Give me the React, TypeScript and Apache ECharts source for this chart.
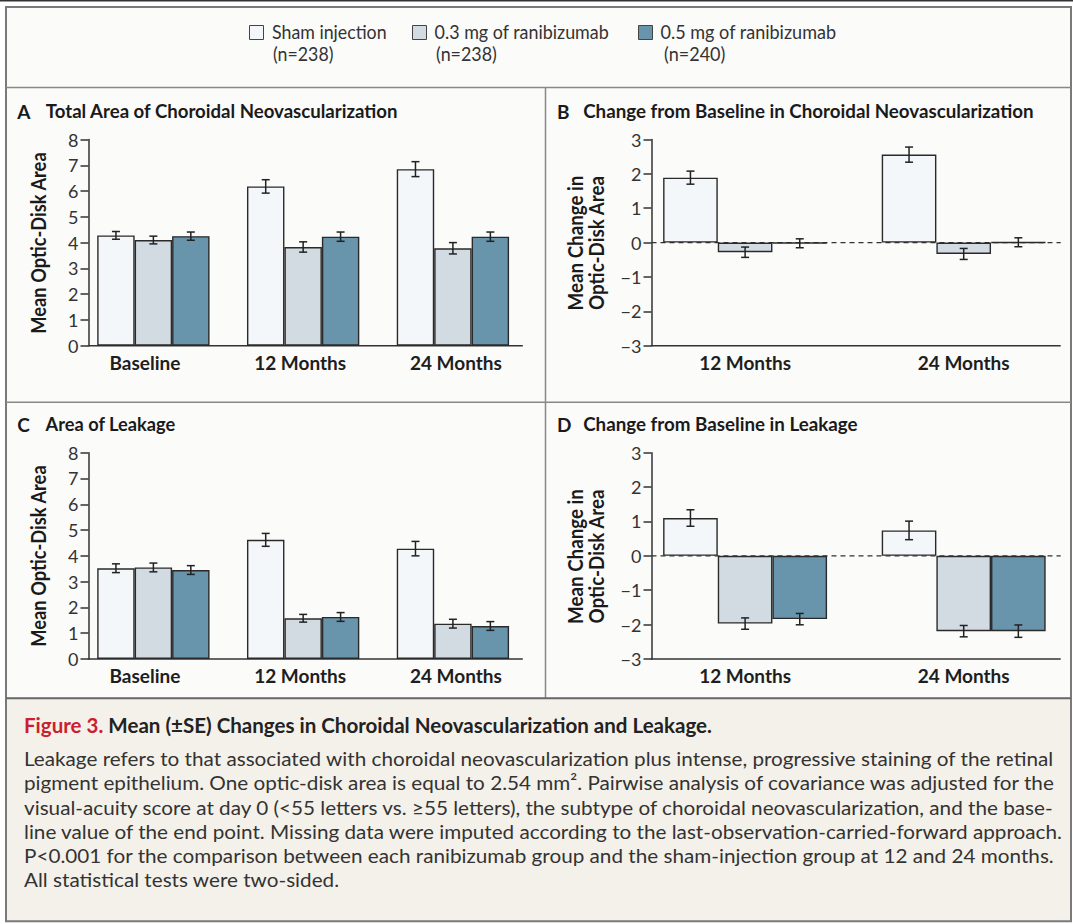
import React, { useEffect, useRef } from 'react';
import * as echarts from 'echarts';

const W = 1073;
const H = 924;
const FAMILY = 'Lato';

// ---------- data ----------
const timepointsAC = ['Baseline', '12 Months', '24 Months'];
const timepointsBD = ['12 Months', '24 Months'];
const groupNames = ['Sham injection', '0.3 mg of ranibizumab', '0.5 mg of ranibizumab'];
const groupSizes = ['(n=238)', '(n=238)', '(n=240)'];

// A: total area of CNV (mean optic-disk area)
const cnvAreaSham = [4.28, 6.18, 6.85];
const cnvArea03 = [4.1, 3.83, 3.78];
const cnvArea05 = [4.25, 4.23, 4.23];
const cnvAreaShamSE = [0.15, 0.26, 0.29];
const cnvArea03SE = [0.15, 0.2, 0.22];
const cnvArea05SE = [0.16, 0.18, 0.18];

// B: change from baseline in CNV
const cnvChangeSham = [1.89, 2.56];
const cnvChange03 = [-0.28, -0.33];
const cnvChange05 = [-0.02, 0.01];
const cnvChangeShamSE = [0.19, 0.22];
const cnvChange03SE = [0.15, 0.16];
const cnvChange05SE = [0.13, 0.13];

// C: area of leakage
const leakAreaSham = [3.52, 4.62, 4.28];
const leakArea03 = [3.55, 1.58, 1.37];
const leakArea05 = [3.45, 1.63, 1.28];
const leakAreaShamSE = [0.17, 0.25, 0.28];
const leakArea03SE = [0.17, 0.15, 0.17];
const leakArea05SE = [0.17, 0.17, 0.17];

// D: change from baseline in leakage
const leakChangeSham = [1.1, 0.74];
const leakChange03 = [-1.97, -2.19];
const leakChange05 = [-1.84, -2.19];
const leakChangeShamSE = [0.24, 0.27];
const leakChange03SE = [0.165, 0.165];
const leakChange05SE = [0.165, 0.18];

const panelLetters = ['A', 'B', 'C', 'D'];
const panelTitles = [
  'Total Area of Choroidal Neovascularization',
  'Change from Baseline in Choroidal Neovascularization',
  'Area of Leakage',
  'Change from Baseline in Leakage',
];

const captionTitleRed = 'Figure 3.';
const captionTitle = 'Mean (±SE) Changes in Choroidal Neovascularization and Leakage.';
const captionLines = [
  'Leakage refers to that associated with choroidal neovascularization plus intense, progressive staining of the retinal',
  'pigment epithelium. One optic-disk area is equal to 2.54 mm². Pairwise analysis of covariance was adjusted for the',
  'visual-acuity score at day 0 (<55 letters vs. ≥55 letters), the subtype of choroidal neovascularization, and the base-',
  'line value of the end point. Missing data were imputed according to the last-observation-carried-forward approach.',
  'P<0.001 for the comparison between each ranibizumab group and the sham-injection group at 12 and 24 months.',
  'All statistical tests were two-sided.',
];

// ---------- styles ----------
const groupColors = ['#f4f7fa', '#d3dbe2', '#6895ac'];
const INK = '#2a2a2a';

let measureCtx: CanvasRenderingContext2D | null = null;
function textWidth(text: string, size: number, weight: string) {
  if (!measureCtx) measureCtx = document.createElement('canvas').getContext('2d');
  measureCtx!.font = `${weight} ${size}px ${FAMILY}`;
  return measureCtx!.measureText(text).width;
}

function txt(text: string, x: number, y: number, size: number, weight: string, fill: string, scaleX = 1, align = 'left', rotation = 0) {
  return {
    type: 'text',
    x,
    y,
    rotation,
    scaleX,
    silent: true,
    style: {
      text,
      fill,
      font: `${weight} ${size}px ${FAMILY}`,
      align,
      textAlign: align,
      verticalAlign: 'middle',
      textVerticalAlign: 'middle',
    },
  };
}

function fitText(text: string, x: number, y: number, width: number, size: number, weight: string, fill: string, align = 'left', rotation = 0) {
  const s = width / textWidth(text, size, weight);
  return txt(text, x, y, size, weight, fill, s, align, rotation);
}

function line(x1: number, y1: number, x2: number, y2: number, stroke: string, lineWidth: number, dash?: number[], z = 0) {
  return {
    type: 'line',
    silent: true,
    z,
    shape: { x1, y1, x2, y2 },
    style: { stroke, lineWidth, lineDash: dash || null },
  };
}

const fmtMinus = (v: number) => (v < 0 ? '\u2212' + Math.abs(v) : String(v));

const labelRichBase = { color: '#1e1e1e', fontFamily: FAMILY, fontWeight: 'bold', fontSize: 19 };

function buildOption() {
  const panels = [
    { cats: timepointsAC, vals: [cnvAreaSham, cnvArea03, cnvArea05], ses: [cnvAreaShamSE, cnvArea03SE, cnvArea05SE], min: 0, max: 8, left: 78.5, top: 139.5, width: 449.3, height: 206.2, axisX: 88.5, axisEnd: 522.8, zero: false, labelPad: [[0, 17, 0, 0], [0, 6, 0, 0], [0, 0, 0, 6]] },
    { cats: timepointsBD, vals: [cnvChangeSham, cnvChange03, cnvChange05], ses: [cnvChangeShamSE, cnvChange03SE, cnvChange05SE], min: -3, max: 3, left: 635.8, top: 139.5, width: 439.2, height: 206.2, axisX: 651.5, axisEnd: 1060.7, zero: true, labelPad: [[0, 0, 0, 0], [0, 0, 0, 0]] },
    { cats: timepointsAC, vals: [leakAreaSham, leakArea03, leakArea05], ses: [leakAreaShamSE, leakArea03SE, leakArea05SE], min: 0, max: 8, left: 78.5, top: 452.7, width: 449.3, height: 206.3, axisX: 88.5, axisEnd: 522.8, zero: false, labelPad: [[0, 17, 0, 0], [0, 6, 0, 0], [0, 0, 0, 6]] },
    { cats: timepointsBD, vals: [leakChangeSham, leakChange03, leakChange05], ses: [leakChangeShamSE, leakChange03SE, leakChange05SE], min: -3, max: 3, left: 635.8, top: 452.7, width: 439.2, height: 206.3, axisX: 651.5, axisEnd: 1060.7, zero: true, labelPad: [[0, 0, 0, 0], [0, 0, 0, 0]] },
  ];

  const grid: any[] = [];
  const xAxis: any[] = [];
  const yAxis: any[] = [];
  const series: any[] = [];
  const graphics: any[] = [];

  // backgrounds & frame
  graphics.push({ type: 'rect', silent: true, z: -10, shape: { x: 6, y: 7, width: 1065, height: 691 }, style: { fill: '#fbfbfa' } });
  graphics.push({ type: 'rect', silent: true, z: -10, shape: { x: 6, y: 698, width: 1065, height: 223 }, style: { fill: '#f4f1ea' } });
  graphics.push(line(0, 0.75, W, 0.75, '#333', 1.5));
  graphics.push({ type: 'rect', silent: true, z: 10, shape: { x: 6, y: 7, width: 1065, height: 914.3 }, style: { fill: 'none', stroke: '#7a7a7a', lineWidth: 2 } });
  graphics.push(line(6, 87.5, 1071, 87.5, '#888', 1.5, undefined, 10));
  graphics.push(line(6, 402.3, 1071, 402.3, '#888', 1.5, undefined, 10));
  graphics.push(line(545.5, 87.5, 545.5, 698, '#888', 1.5, undefined, 10));
  graphics.push(line(6, 698.3, 1071, 698.3, '#666', 2, undefined, 10));

  // legend
  const swX = [249, 412, 638];
  const legTextX = [272, 434.6, 660.5];
  const legTextW = [114.7, 174.6, 175.9];
  const legSubX = [273, 436, 664];
  groupNames.forEach((name, i) => {
    graphics.push({ type: 'rect', silent: true, shape: { x: swX[i] + 0.5, y: 25.5, width: 14, height: 14 }, style: { fill: groupColors[i], stroke: '#444', lineWidth: 1 } });
    const s = legTextW[i] / textWidth(name, 18.5, 'normal');
    graphics.push(txt(name, legTextX[i], 32, 18.5, 'normal', '#333', s));
    graphics.push(txt(groupSizes[i], legSubX[i], 54, 18.5, 'normal', '#333', s));
  });

  // panel titles
  const titleY = [111, 111, 424.3, 424.3];
  const letterX = [17.2, 557, 17.2, 557];
  const titleX = [45.8, 583.2, 45.6, 583.2];
  const titleW = [353, 450.7, 130, 274.6];
  panels.forEach((p, i) => {
    graphics.push(txt(panelLetters[i], letterX[i], titleY[i], 19, 'bold', '#1a1a1a'));
    graphics.push(fitText(panelTitles[i], titleX[i], titleY[i], titleW[i], 18.5, 'bold', '#1a1a1a'));
  });

  // y axis titles
  const yTitleCenters = [243, 243, 556, 556.5];
  [0, 2].forEach((i) => {
    graphics.push(fitText('Mean Optic-Disk Area', 38.6, yTitleCenters[i], 182, 20, 'bold', '#1a1a1a', 'center', Math.PI / 2));
  });
  [1, 3].forEach((i) => {
    const s = 135 / textWidth('Mean Change in', 20, 'bold');
    graphics.push(txt('Mean Change in', 575.7, yTitleCenters[i], 20, 'bold', '#1a1a1a', s, 'center', Math.PI / 2));
    graphics.push(txt('Optic-Disk Area', 596.5, yTitleCenters[i], 20, 'bold', '#1a1a1a', s, 'center', Math.PI / 2));
  });

  // caption
  {
    const full = captionTitleRed + ' ' + captionTitle;
    const s = 688 / textWidth(full, 20, 'bold');
    graphics.push(txt(captionTitleRed, 24, 725, 20, 'bold', '#cc1f2d', s));
    const off = textWidth(captionTitleRed + ' ', 20, 'bold') * s;
    graphics.push(txt(captionTitle, 24 + off, 725, 20, 'bold', '#222', s));
    const bs = 1030 / textWidth(captionLines[0], 20, 'normal');
    const ys = [758.3, 782.5, 806.7, 831, 855.2, 879.4];
    captionLines.forEach((l, i) => graphics.push(txt(l, 24, ys[i], 20, 'normal', '#333', bs)));
  }

  panels.forEach((p, gi) => {
    grid.push({ left: p.left, top: p.top, width: p.width, height: p.height, containLabel: false });
    const rich: any = {};
    p.cats.forEach((c, i) => {
      rich['c' + i] = { ...labelRichBase, padding: p.labelPad[i] };
    });
    xAxis.push({
      type: 'category',
      gridIndex: gi,
      data: p.cats,
      boundaryGap: true,
      axisLine: { show: false, onZero: false },
      axisTick: { show: false },
      splitLine: { show: false },
      axisLabel: {
        ...labelRichBase,
        margin: 7,
        interval: 0,
        formatter: (v: string, i: number) => `{c${i}|${v}}`,
        rich,
      },
    });
    yAxis.push({
      type: 'value',
      gridIndex: gi,
      min: p.min,
      max: p.max,
      interval: 1,
      offset: -(p.axisX - p.left),
      axisLine: { show: true, lineStyle: { color: '#333', width: 1.5 } },
      axisTick: { show: true, inside: false, length: 8, lineStyle: { color: '#333', width: 1.5 } },
      splitLine: { show: false },
      axisLabel: { color: '#333', fontFamily: FAMILY, fontSize: 18, margin: 10, formatter: fmtMinus },
    });
    // x axis baseline and zero line
    const yBottom = p.top + p.height;
    graphics.push(line(p.axisX - 0.75, yBottom, p.axisEnd, yBottom, '#333', 1.5, undefined, 1));
    if (p.zero) {
      const yZero = p.top + (p.height * (p.max - 0)) / (p.max - p.min);
      graphics.push(line(p.axisX, yZero, p.axisEnd, yZero, '#333', 1.2, [5, 4], 1));
    }

    p.vals.forEach((vals, k) => {
      series.push({
        type: 'bar',
        name: groupNames[k],
        xAxisIndex: gi,
        yAxisIndex: gi,
        data: vals,
        barWidth: '25%',
        barGap: '0%',
        z: 3,
        silent: true,
        itemStyle: { color: groupColors[k], borderColor: INK, borderWidth: 1.4 },
      });
    });
    p.vals.forEach((vals, k) => {
      const ses = p.ses[k];
      series.push({
        type: 'custom',
        xAxisIndex: gi,
        yAxisIndex: gi,
        z: 6,
        silent: true,
        clip: false,
        data: vals.map((m, i) => [i, m, ses[i]]),
        encode: { x: 0, y: 1 },
        renderItem: (params: any, api: any) => {
          const cat = api.value(0);
          const m = api.value(1);
          const se = api.value(2);
          const band = api.size([1, 0])[0];
          const xc = api.coord([cat, m])[0] + (k - 1) * band * 0.25;
          const yt = api.coord([cat, m + se])[1];
          const yb = api.coord([cat, m - se])[1];
          const style = { stroke: '#222', lineWidth: 1.5, fill: 'none' };
          return {
            type: 'group',
            children: [
              { type: 'line', shape: { x1: xc, y1: yt, x2: xc, y2: yb }, style },
              { type: 'line', shape: { x1: xc - 4, y1: yt, x2: xc + 4, y2: yt }, style },
              { type: 'line', shape: { x1: xc - 4, y1: yb, x2: xc + 4, y2: yb }, style },
            ],
          };
        },
      });
    });
  });

  return {
    animation: false,
    backgroundColor: '#ffffff',
    textStyle: { fontFamily: FAMILY },
    grid,
    xAxis,
    yAxis,
    series,
    graphic: { elements: graphics },
  };
}

export default function App() {
  const ref = useRef<HTMLDivElement>(null);
  useEffect(() => {
    const chart = echarts.init(ref.current!, null, { renderer: 'svg', width: W, height: H });
    chart.setOption(buildOption() as any);
    return () => chart.dispose();
  }, []);
  return <div ref={ref} style={{ position: 'fixed', left: 0, top: 0, width: W, height: H }} />;
}
